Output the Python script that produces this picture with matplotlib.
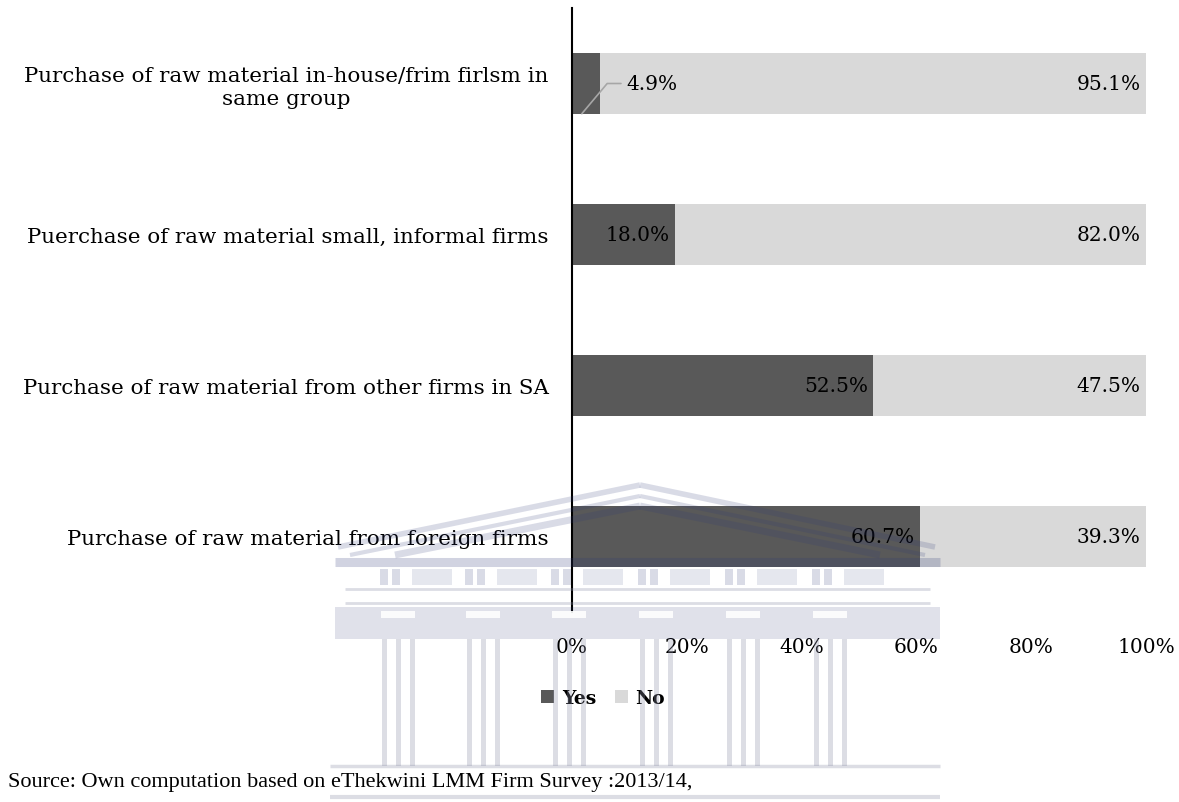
import matplotlib
matplotlib.use("Agg")
import matplotlib.pyplot as plt
from matplotlib.patches import Rectangle

categories = [
    "Purchase of raw material in-house/frim firlsm in\nsame group",
    "Puerchase of raw material small, informal firms",
    "Purchase of raw material from other firms in SA",
    "Purchase of raw material from foreign firms",
]
yes_share = [4.9, 18.0, 52.5, 60.7]
no_share = [95.1, 82.0, 47.5, 39.3]
series_names = ["Yes", "No"]
x_ticks = [0, 20, 40, 60, 80, 100]
x_tick_labels = ["0%", "20%", "40%", "60%", "80%", "100%"]
source_note = "Source: Own computation based on eThekwini LMM Firm Survey :2013/14,"

YES_COLOR = "#595959"
NO_COLOR = "#d9d9d9"
SERIF = "DejaVu Serif"
LABEL_SIZE = 15.4
VALUE_SIZE = 14.5

W, H = 1179, 803
fig = plt.figure(figsize=(W / 100, H / 100), dpi=100)
ax = fig.add_axes([572 / W, 1 - 613 / H, (1146 - 572) / W, (613 - 9) / H])

ypos = list(range(len(categories)))
bar_h = 0.40
ax.barh(ypos, yes_share, height=bar_h, color=YES_COLOR, label=series_names[0], zorder=2)
ax.barh(ypos, no_share, left=yes_share, height=bar_h, color=NO_COLOR, label=series_names[1], zorder=2)

ax.set_xlim(0, 100)
ax.set_ylim(len(categories) - 0.5, -0.5)
ax.set_xticks(x_ticks)
ax.set_xticklabels(x_tick_labels, fontsize=VALUE_SIZE, family=SERIF)
ax.set_yticks(ypos)
ax.set_yticklabels(categories, fontsize=LABEL_SIZE, family=SERIF,
                   multialignment="center", linespacing=1.25)
ax.tick_params(axis="both", length=0)
ax.tick_params(axis="x", pad=18)
ax.tick_params(axis="y", pad=17)
for side in ("top", "right", "bottom"):
    ax.spines[side].set_visible(False)
ax.spines["left"].set_linewidth(1.5)
ax.spines["left"].set_color("black")
ax.spines["left"].set_zorder(3)

# value labels, right-aligned just inside the end of each segment
for i, (y_val, n_val) in enumerate(zip(yes_share, no_share)):
    if y_val < 10:
        # narrow segment: label sits outside with a leader line
        ax.annotate(f"{y_val:.1f}%", xy=(y_val * 0.35, i + bar_h / 2),
                    xytext=(9.5, i), textcoords="data",
                    ha="left", va="center", fontsize=VALUE_SIZE, family=SERIF,
                    arrowprops=dict(arrowstyle="-", color="#a6a6a6", lw=1.2,
                                    connectionstyle="angle,angleA=0,angleB=50,rad=0",
                                    shrinkA=2, shrinkB=0))
    else:
        ax.annotate(f"{y_val:.1f}%", xy=(y_val, i), xytext=(-4, 0),
                    textcoords="offset points", ha="right", va="center",
                    fontsize=VALUE_SIZE, family=SERIF, zorder=4)
    ax.annotate(f"{n_val:.1f}%", xy=(y_val + n_val, i), xytext=(-4, 0),
                textcoords="offset points", ha="right", va="center",
                fontsize=VALUE_SIZE, family=SERIF, zorder=4)

handles, labels = ax.get_legend_handles_labels()
fig.legend(handles, labels, loc="center", bbox_to_anchor=(603 / W, 1 - 699 / H),
           ncol=2, frameon=False, handlelength=0.7, handleheight=0.7,
           handletextpad=0.4, columnspacing=1.0,
           prop=dict(family=SERIF, weight="bold", size=13.5))

fig.text(8 / W, 1 - 783 / H, source_note, ha="left", va="center",
         fontsize=16, family="Liberation Serif")

# faint building emblem printed across the lower half of the page
wm = fig.add_axes([0, 0, 1, 1], zorder=10)
wm.set_xlim(0, W)
wm.set_ylim(H, 0)
wm.axis("off")
wm.patch.set_alpha(0)
INK = "#2f3a78"
PALE = "#8c8fa8"

def strip(x0, y0, x1, y1, lw, color=INK, alpha=0.22):
    wm.plot([x0, x1], [y0, y1], color=color, lw=lw, alpha=alpha,
            solid_capstyle="butt")

# pediment: nested sloping outlines
apex_x = 640
for (lx, ly, ay, rx, ry, lw) in [(338, 548, 486, 935, 548, 4.0),
                                 (350, 556, 497, 925, 556, 3.0),
                                 (395, 556, 507, 880, 556, 5.0)]:
    strip(lx, ly, apex_x, ay, lw, alpha=0.18)
    strip(apex_x, ay, rx, ry, lw, alpha=0.18)

# entablature bands
strip(335, 563, 940, 563, 6.5, alpha=0.22)
strip(345, 590, 930, 590, 2.0, color=PALE, alpha=0.3)
strip(345, 604, 930, 604, 2.0, color=PALE, alpha=0.3)
wm.add_patch(Rectangle((335, 608), 605, 32, color=INK, alpha=0.15, lw=0))

# frieze openings
col_x = [398, 483, 569, 656, 743, 830]
for cx in col_x:
    for dx in (-18, -6):
        wm.add_patch(Rectangle((cx + dx, 570), 8, 16, color=INK, alpha=0.18, lw=0))
    wm.add_patch(Rectangle((cx + 14, 570), 40, 16, color=INK, alpha=0.12, lw=0))
    # capital block
    wm.add_patch(Rectangle((cx - 17, 612), 34, 7, color="white", alpha=0.9, lw=0))

# columns
for cx in col_x:
    for dx in (-16, -2, 12):
        wm.add_patch(Rectangle((cx + dx, 640), 5, 127, color=PALE, alpha=0.3, lw=0))

# base
strip(330, 767, 940, 767, 2.5, color=PALE, alpha=0.3)
strip(330, 798, 940, 798, 3.0, color=PALE, alpha=0.3)

plt.savefig("out.png", dpi=100)
